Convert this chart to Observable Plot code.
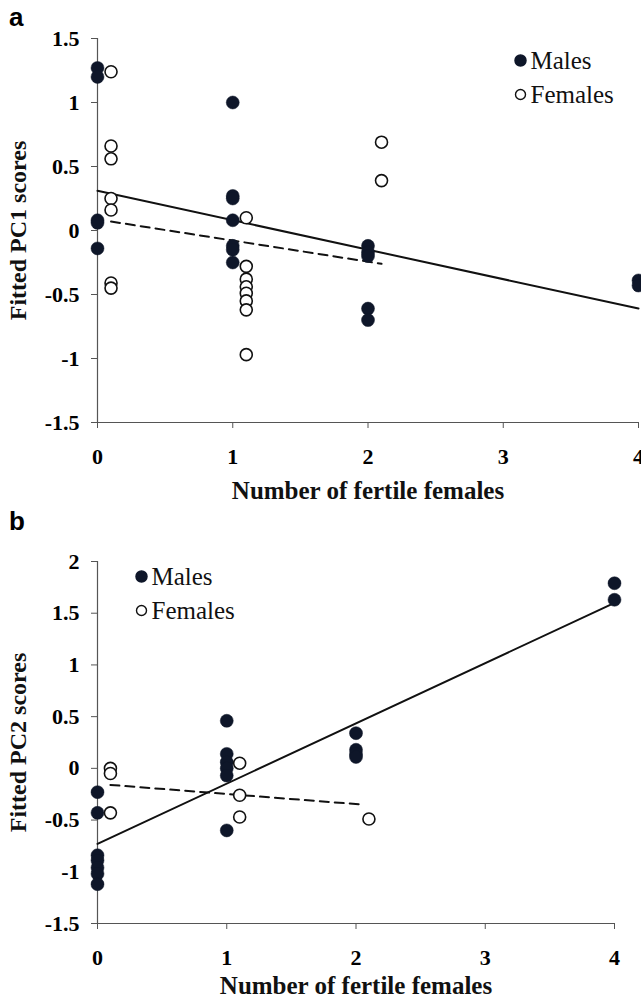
<!DOCTYPE html>
<html><head><meta charset="utf-8">
<script src="https://cdn.jsdelivr.net/npm/d3@7"></script>
<script src="https://cdn.jsdelivr.net/npm/@observablehq/plot@0.6"></script>
<style>
body{margin:0;background:#fff;}
#wrap{position:relative;width:641px;height:998px;background:#fff;}
.panel{position:absolute;left:0;z-index:1;}
.panel svg text{font-family:"Liberation Serif","Times New Roman",serif;}
.tag{position:absolute;z-index:5;font-family:"Liberation Sans",Arial,sans-serif;font-weight:bold;font-size:26px;line-height:1;color:#000;}
</style></head><body>
<div id="wrap">
  <div class="tag" style="left:9px;top:4px;">a</div>
  <div class="tag" style="left:9px;top:508px;">b</div>
  <div id="pa" class="panel" style="top:0px;"></div>
  <div id="pb" class="panel" style="top:500px;"></div>
</div>
<script>
// ---- Panel a data (PC1) ----
const aMaleX = [0,0,0,0,0, 1,1,1,1,1,1,1, 2,2,2,2,2, 4,4];
const aMaleY = [1.27,1.2,0.08,0.06,-0.14, 1.0,0.27,0.25,0.08,-0.12,-0.15,-0.25, -0.12,-0.17,-0.2,-0.61,-0.7, -0.39,-0.43];
const aFemX = [0.1,0.1,0.1,0.1,0.1,0.1,0.1, 1.1,1.1,1.1,1.1,1.1,1.1,1.1,1.1, 2.1,2.1];
const aFemY = [1.24,0.66,0.56,0.25,0.16,-0.41,-0.45, 0.1,-0.28,-0.38,-0.44,-0.49,-0.55,-0.62,-0.97, 0.69,0.39];
const aMaleFitX = [0,4];
const aMaleFitY = [0.31,-0.61];
const aFemFitX = [0.1,2.1];
const aFemFitY = [0.07,-0.26];

// ---- Panel b data (PC2) ----
const bMaleX = [0,0,0,0,0,0,0, 1,1,1,1,1,1, 2,2,2,2, 4,4];
const bMaleY = [-0.23,-0.43,-0.84,-0.89,-0.96,-1.02,-1.12, 0.46,0.14,0.06,0.0,-0.07,-0.6, 0.34,0.18,0.14,0.11, 1.79,1.63];
const bFemX = [0.1,0.1,0.1, 1.1,1.1,1.1, 2.1];
const bFemY = [0.0,-0.05,-0.43, 0.05,-0.26,-0.47, -0.49];
const bMaleFitX = [0,4];
const bMaleFitY = [-0.73,1.6];
const bFemFitX = [0.1,2.05];
const bFemFitY = [-0.16,-0.35];

const xTicks = [0,1,2,3,4];
const aYTicks = [-1.5,-1,-0.5,0,0.5,1,1.5];
const bYTicks = [-1.5,-1,-0.5,0,0.5,1,1.5,2];
const xTitle = "Number of fertile females";
const legendLabels = ["Males","Females"];

const zip = (xs, ys) => xs.map((x,i) => ({x, y: ys[i]}));
const DOT = "#0e1629";
const AX = "#555";
const SERIF = "Liberation Serif, Times New Roman, serif";

function makePanel(o) {
  const males = zip(o.mx, o.my), fems = zip(o.fx, o.fy);
  const mFit = zip(o.mfx, o.mfy), fFit = zip(o.ffx, o.ffy);
  return Plot.plot({
    width: 641, height: o.height,
    marginLeft: 97, marginRight: o.marginRight, marginTop: o.marginTop, marginBottom: o.marginBottom,
    style: {fontFamily: SERIF, fontSize: "22px", fontWeight: "bold", color: "#000", background: "white", overflow: "visible"},
    x: {domain: [0,4]},
    y: {domain: o.yDomain},
    marks: [
      Plot.axisY({ticks: o.yTicks, tickSize: 6, tickPadding: 12, tickFormat: d => String(d), stroke: AX, label: null, fontSize: 22, fontFamily: SERIF, fontWeight: "bold"}),
      Plot.axisX({ticks: xTicks, tickSize: 6, tickPadding: 20, tickFormat: d => String(d), stroke: AX, label: null, fontSize: 22, fontFamily: SERIF, fontWeight: "bold"}),
      Plot.ruleX([0], {stroke: AX, strokeWidth: 1.2}),
      Plot.ruleY([o.yDomain[0]], {stroke: AX, strokeWidth: 1.2}),
      Plot.line(fFit, {x: "x", y: "y", stroke: "#111", strokeWidth: 2, strokeDasharray: "9,6"}),
      Plot.line(mFit, {x: "x", y: "y", stroke: "#111", strokeWidth: 2}),
      Plot.dot(males, {x: "x", y: "y", r: 6.5, fill: DOT, stroke: DOT, strokeWidth: 0.5}),
      Plot.dot(fems, {x: "x", y: "y", r: 6, fill: "white", stroke: "#111", strokeWidth: 1.6}),
      // legend
      Plot.dot([legendLabels[0]], {frameAnchor: "top-left", dx: o.lgx, dy: o.lgy, r: 5.5, fill: DOT, stroke: DOT}),
      Plot.dot([legendLabels[1]], {frameAnchor: "top-left", dx: o.lgx, dy: o.lgy + 34, r: 5, fill: "white", stroke: "#111", strokeWidth: 1.4}),
      Plot.text([legendLabels[0]], {text: d => d, frameAnchor: "top-left", dx: o.lgx + 10, dy: o.lgy, textAnchor: "start", lineAnchor: "middle", fontSize: 25, fontWeight: "normal", fontFamily: SERIF, fill: "#111"}),
      Plot.text([legendLabels[1]], {text: d => d, frameAnchor: "top-left", dx: o.lgx + 10, dy: o.lgy + 34, textAnchor: "start", lineAnchor: "middle", fontSize: 25, fontWeight: "normal", fontFamily: SERIF, fill: "#111"}),
      // axis titles
      Plot.text([o.yTitle], {text: d => d, frameAnchor: "left", dx: -79, rotate: -90, textAnchor: "middle", lineAnchor: "middle", fontSize: 24, fontWeight: "bold", fontFamily: SERIF, fill: "#111"}),
      Plot.text([xTitle], {text: d => d, frameAnchor: "bottom", dy: o.xTitleDy, textAnchor: "middle", lineAnchor: "middle", fontSize: 25, fontWeight: "bold", fontFamily: SERIF, fill: "#111"})
    ]
  });
}

document.getElementById("pa").append(makePanel({
  mx: aMaleX, my: aMaleY, fx: aFemX, fy: aFemY,
  mfx: aMaleFitX, mfy: aMaleFitY, ffx: aFemFitX, ffy: aFemFitY,
  height: 500, marginTop: 38, marginBottom: 78, marginRight: 3,
  yDomain: [-1.5,1.5], yTicks: aYTicks, yTitle: "Fitted PC1 scores",
  lgx: 423, lgy: 22, xTitleDy: 68
}));
document.getElementById("pb").append(makePanel({
  mx: bMaleX, my: bMaleY, fx: bFemX, fy: bFemY,
  mfx: bMaleFitX, mfy: bMaleFitY, ffx: bFemFitX, ffy: bFemFitY,
  height: 498, marginTop: 61, marginBottom: 75, marginRight: 27,
  yDomain: [-1.5,2], yTicks: bYTicks, yTitle: "Fitted PC2 scores",
  lgx: 44, lgy: 15, xTitleDy: 62
}));
</script>
</body></html>
